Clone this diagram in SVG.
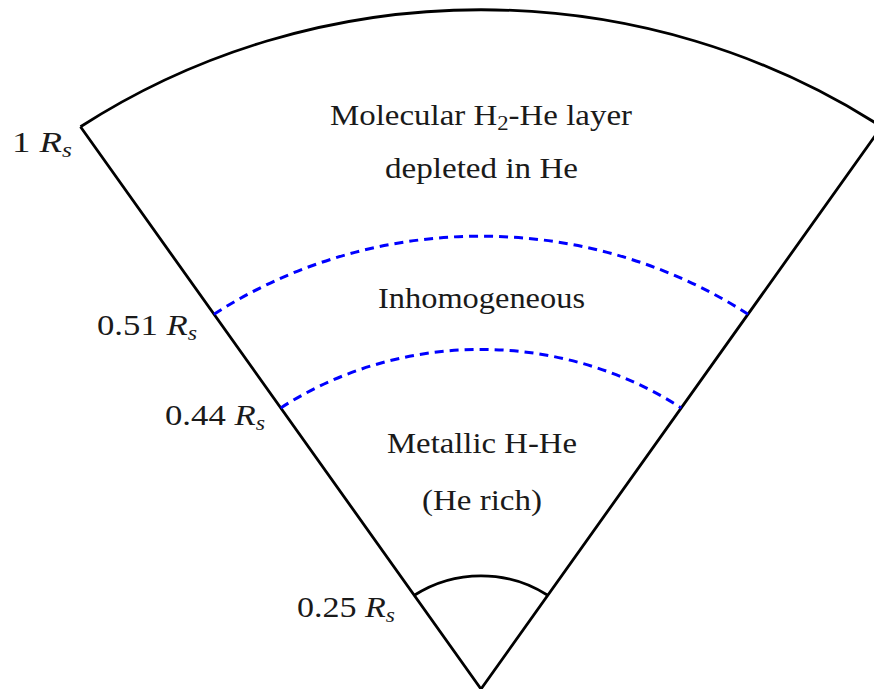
<svg xmlns="http://www.w3.org/2000/svg" width="874" height="689" viewBox="0 0 874 689">
<style>
.solid{fill:none;stroke:#000;stroke-width:2.8;stroke-linejoin:miter}
.dash{fill:none;stroke:#0000ff;stroke-width:3;stroke-dasharray:9 6}
.t{font-family:'Liberation Serif','Times New Roman',serif;font-size:29px;fill:#1a1a1a}
.it{font-style:italic}
.sub{font-size:20px}
</style>
<rect width="874" height="689" fill="#fff"/>
<g id="wedge">
<path class="solid" d="M 80.5 126.8 L 481 689 L 881.5 126.8"/>
<path class="solid" d="M 80.5 126.8 A 713.6 679.2 0 0 1 881.5 126.8"/>
<path class="solid" d="M 414.3 595.3 A 118.9 113.2 0 0 1 547.7 595.3"/>
</g>
<g id="boundaries">
<path class="dash" d="M 214 314.2 A 475.7 452.8 0 0 1 748 314.2"/>
<path class="dash" d="M 280.8 407.9 A 356.8 339.6 0 0 1 681.2 407.9"/>
</g>
<g id="layer-molecular">
<text class="t" x="330" y="125" textLength="302" lengthAdjust="spacingAndGlyphs">Molecular H<tspan class="sub" dy="5">2</tspan><tspan dy="-5">-He layer</tspan></text>
<text class="t" x="385" y="178" textLength="193" lengthAdjust="spacingAndGlyphs">depleted in He</text>
</g>
<g id="layer-inhomogeneous">
<text class="t" x="378" y="308" textLength="207" lengthAdjust="spacingAndGlyphs">Inhomogeneous</text>
</g>
<g id="layer-metallic">
<text class="t" x="387" y="453" textLength="190" lengthAdjust="spacingAndGlyphs">Metallic H-He</text>
<text class="t" x="422" y="510" textLength="120" lengthAdjust="spacingAndGlyphs">(He rich)</text>
</g>
<g id="radius-labels">
<text class="t" x="12" y="152" textLength="60" lengthAdjust="spacingAndGlyphs">1 <tspan class="it">R</tspan><tspan class="it sub" dy="5">s</tspan></text>
<text class="t" x="97" y="335" textLength="100" lengthAdjust="spacingAndGlyphs">0.51 <tspan class="it">R</tspan><tspan class="it sub" dy="5">s</tspan></text>
<text class="t" x="165" y="425" textLength="100" lengthAdjust="spacingAndGlyphs">0.44 <tspan class="it">R</tspan><tspan class="it sub" dy="5">s</tspan></text>
<text class="t" x="297" y="617" textLength="98" lengthAdjust="spacingAndGlyphs">0.25 <tspan class="it">R</tspan><tspan class="it sub" dy="5">s</tspan></text>
</g>
</svg>
